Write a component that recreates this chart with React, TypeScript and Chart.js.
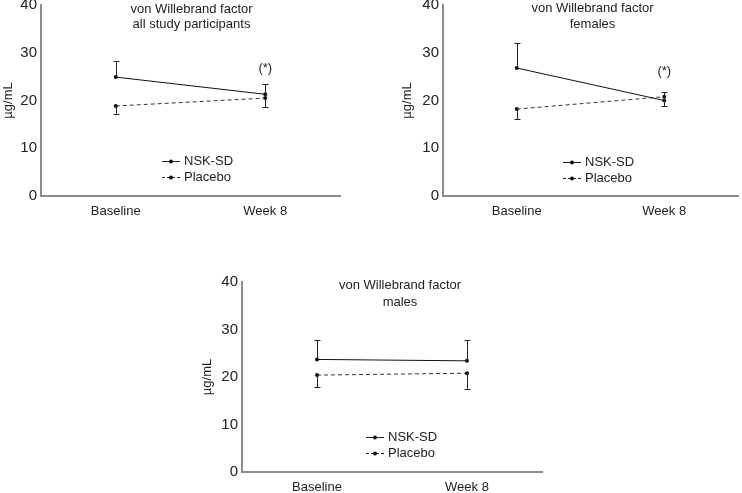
import React, { useEffect, useRef } from "react";
import { Chart, registerables } from "chart.js";

Chart.register(...registerables);

// ---------- data ----------
const categories = ["Baseline", "Week 8"];
const yTicks = [0, 10, 20, 30, 40];
const seriesNames = ["NSK-SD", "Placebo"];
const yTitle = "µg/mL";
const significance = "(*)";

const allNsk = [24.9, 21.3];
const allNskUpper = [28.3, 23.4];
const allPlacebo = [18.85, 20.5];
const allPlaceboLower = [17.2, 18.6];
const allTitle = ["von Willebrand factor", "all study participants"];
const allStarValue = 26.8;

const femNsk = [26.8, 20.0];
const femNskUpper = [32.0, 21.7];
const femPlacebo = [18.2, 20.8];
const femPlaceboLower = [16.1, 18.8];
const femTitle = ["von Willebrand factor", "females"];
const femStarValue = 26.0;

const maleNsk = [23.7, 23.4];
const maleNskUpper = [27.8, 27.8];
const malePlacebo = [20.4, 20.8];
const malePlaceboLower = [17.9, 17.5];
const maleTitle = ["von Willebrand factor", "males"];

const FONT = '"Liberation Sans", Arial, Helvetica, sans-serif';
const TEXT = "#222";
const AXIS = "#8c8c8c";

type Area = { left: number; right: number; top: number; bottom: number };
type PanelProps = {
  x: number;
  y: number;
  width: number;
  height: number;
  area: Area;
  nsk: number[];
  nskErr: number[];
  placebo: number[];
  placeboErr: number[];
  title: string[];
  titleDx: number;
  titleY: number[];
  star?: number;
  legendX: number;
  legendY: number;
  yTitlePad: number;
};

const errorBars = {
  id: "errorBars",
  afterDatasetsDraw(chart: any) {
    const ctx = chart.ctx;
    const ys = chart.scales.y;
    chart.data.datasets.forEach((ds: any, i: number) => {
      const meta = chart.getDatasetMeta(i);
      if (!ds.errValues) return;
      ctx.save();
      ctx.strokeStyle = "#222";
      ctx.lineWidth = 1;
      meta.data.forEach((pt: any, j: number) => {
        const x = Math.round(pt.x) + 0.5;
        const y0 = pt.y;
        const y1 = ys.getPixelForValue(ds.errValues[j]);
        ctx.beginPath();
        ctx.moveTo(x, y0);
        ctx.lineTo(x, y1);
        ctx.moveTo(x - 3, Math.round(y1) + 0.5);
        ctx.lineTo(x + 3, Math.round(y1) + 0.5);
        ctx.stroke();
      });
      ctx.restore();
    });
  },
};

const decor = {
  id: "decor",
  afterDraw(chart: any, _args: any, opts: any) {
    const ctx = chart.ctx;
    const a = chart.chartArea;
    const xs = chart.scales.x;
    const ys = chart.scales.y;
    ctx.save();
    ctx.fillStyle = TEXT;
    ctx.font = `13px ${FONT}`;
    ctx.textAlign = "center";
    ctx.textBaseline = "middle";
    const cx = (a.left + a.right) / 2 + opts.titleDx;
    opts.title.forEach((t: string, i: number) => {
      ctx.fillText(t, cx, a.top + opts.titleY[i]);
    });
    if (opts.star !== undefined) {
      ctx.fillText(significance, xs.getPixelForValue(1), ys.getPixelForValue(opts.star));
    }
    // legend
    ctx.textAlign = "left";
    const lx = a.left + opts.legendX;
    seriesNames.forEach((name, i) => {
      const ly = Math.round(a.top + opts.legendY + i * 16) + 0.5;
      ctx.strokeStyle = "#222";
      ctx.lineWidth = 1;
      ctx.setLineDash(i === 0 ? [] : [3, 2]);
      ctx.beginPath();
      ctx.moveTo(lx, ly);
      ctx.lineTo(lx + 18, ly);
      ctx.stroke();
      ctx.setLineDash([]);
      ctx.beginPath();
      ctx.arc(lx + 9, ly, 2, 0, Math.PI * 2);
      ctx.fillStyle = "#111";
      ctx.fill();
      ctx.fillStyle = TEXT;
      ctx.fillText(name, lx + 22, ly);
    });
    ctx.restore();
  },
};

function Panel(p: PanelProps) {
  const ref = useRef<HTMLCanvasElement | null>(null);
  useEffect(() => {
    if (!ref.current) return;
    const chart = new Chart(ref.current, {
      type: "line",
      data: {
        labels: categories,
        datasets: [
          {
            label: seriesNames[0],
            data: p.nsk,
            borderColor: "#111",
            backgroundColor: "#111",
            borderWidth: 1,
            pointRadius: 2,
            pointBackgroundColor: "#111",
            pointBorderWidth: 0,
            errValues: p.nskErr,
          } as any,
          {
            label: seriesNames[1],
            data: p.placebo,
            borderColor: "#333",
            backgroundColor: "#111",
            borderWidth: 1,
            borderDash: [4, 3],
            pointRadius: 2,
            pointBackgroundColor: "#111",
            pointBorderWidth: 0,
            errValues: p.placeboErr,
          } as any,
        ],
      },
      options: {
        responsive: false,
        animation: false,
        events: [],
        layout: {
          padding: { left: 0, top: p.area.top, right: p.width - p.area.right, bottom: 0 },
        },
        plugins: {
          legend: { display: false },
          tooltip: { enabled: false },
          title: { display: false },
          decor: {
            title: p.title,
            titleDx: p.titleDx,
            titleY: p.titleY,
            star: p.star,
            legendX: p.legendX,
            legendY: p.legendY,
          },
        } as any,
        scales: {
          x: {
            type: "category",
            offset: true,
            grid: { display: false, drawTicks: false },
            border: { display: true, color: AXIS, width: 2 },
            ticks: {
              color: TEXT,
              font: { family: FONT, size: 13 },
              padding: 8,
              maxRotation: 0,
              autoSkip: false,
            },
            afterFit: (s: any) => {
              s.height = p.height - p.area.bottom;
              s.paddingLeft = 0;
              s.paddingRight = 0;
            },
          },
          y: {
            min: 0,
            max: 40,
            grid: { display: false, drawTicks: false },
            border: { display: true, color: AXIS, width: 2 },
            ticks: {
              color: TEXT,
              font: { family: FONT, size: 15 },
              padding: 4,
            },
            afterBuildTicks: (s: any) => {
              s.ticks = yTicks.map((v) => ({ value: v }));
            },
            title: {
              display: true,
              text: yTitle,
              color: TEXT,
              font: { family: FONT, size: 13 },
              padding: { top: p.yTitlePad, bottom: 0 },
            },
            afterFit: (s: any) => {
              s.width = p.area.left;
              s.paddingTop = 0;
              s.paddingBottom = 0;
            },
          },
        },
      },
      plugins: [errorBars, decor],
    });
    return () => chart.destroy();
  }, []);
  return (
    <canvas
      ref={ref}
      width={p.width}
      height={p.height}
      style={{
        position: "absolute",
        left: p.x,
        top: p.y,
        width: p.width,
        height: p.height,
      }}
    />
  );
}

export default function App() {
  return (
    <div
      style={{
        position: "fixed",
        left: 0,
        top: 0,
        width: 742,
        height: 493,
        background: "#fff",
        overflow: "hidden",
      }}
    >
      <Panel
        x={0}
        y={0}
        width={345}
        height={230}
        area={{ left: 41, right: 340, top: 5, bottom: 196 }}
        nsk={allNsk}
        nskErr={allNskUpper}
        placebo={allPlacebo}
        placeboErr={allPlaceboLower}
        title={allTitle}
        titleDx={1}
        titleY={[4, 19.5]}
        star={allStarValue}
        legendX={121}
        legendY={156}
        yTitlePad={1}
      />
      <Panel
        x={400}
        y={0}
        width={342}
        height={230}
        area={{ left: 43, right: 342, top: 5, bottom: 196 }}
        nsk={femNsk}
        nskErr={femNskUpper}
        placebo={femPlacebo}
        placeboErr={femPlaceboLower}
        title={femTitle}
        titleDx={2}
        titleY={[3.5, 19.5]}
        star={femStarValue}
        legendX={120}
        legendY={157}
        yTitlePad={0}
      />
      <Panel
        x={198}
        y={276}
        width={350}
        height={217}
        area={{ left: 44, right: 344, top: 6, bottom: 196 }}
        nsk={maleNsk}
        nskErr={maleNskUpper}
        placebo={malePlacebo}
        placeboErr={malePlaceboLower}
        title={maleTitle}
        titleDx={8}
        titleY={[3.5, 20]}
        legendX={124}
        legendY={155}
        yTitlePad={2}
      />
    </div>
  );
}
